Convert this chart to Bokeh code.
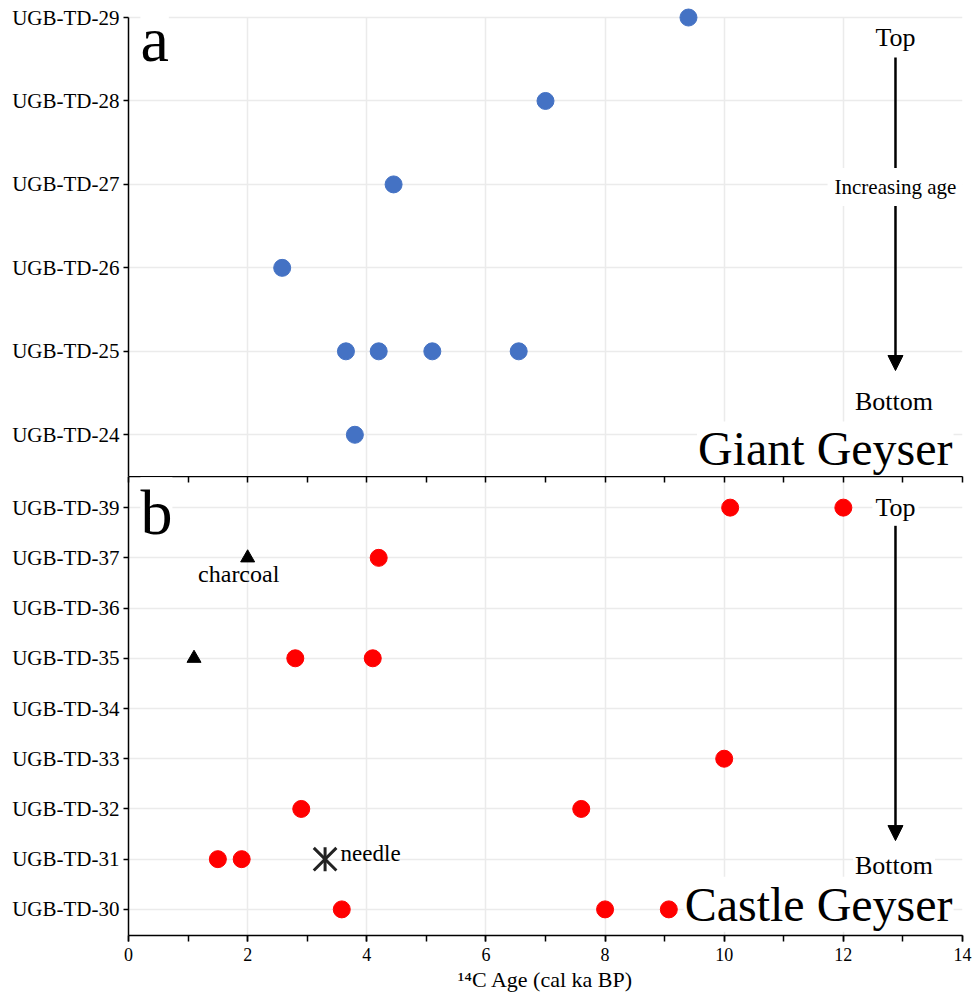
import math
from bokeh.plotting import figure
from bokeh.models import Range1d, FixedTicker, Label, Arrow, NormalHead, LinearAxis
from bokeh.layouts import column
from bokeh.embed import file_html
from bokeh.resources import INLINE

FONT = "Liberation Serif"

# ---------------- data ----------------
x_ticks = [0, 2, 4, 6, 8, 10, 12, 14]
x_minor = list(range(0, 15))

# panel a : Giant Geyser
giant_cats = ["UGB-TD-24", "UGB-TD-25", "UGB-TD-26", "UGB-TD-27", "UGB-TD-28", "UGB-TD-29"]
giant_sample = ["UGB-TD-29", "UGB-TD-28", "UGB-TD-27", "UGB-TD-26",
                "UGB-TD-25", "UGB-TD-25", "UGB-TD-25", "UGB-TD-25", "UGB-TD-24"]
giant_age = [9.4, 7.0, 4.45, 2.58, 3.65, 4.2, 5.1, 6.55, 3.8]

# panel b : Castle Geyser
castle_cats = ["UGB-TD-30", "UGB-TD-31", "UGB-TD-32", "UGB-TD-33", "UGB-TD-34",
               "UGB-TD-35", "UGB-TD-36", "UGB-TD-37", "UGB-TD-39"]
castle_sample = ["UGB-TD-39", "UGB-TD-39", "UGB-TD-37", "UGB-TD-35", "UGB-TD-35",
                 "UGB-TD-33", "UGB-TD-32", "UGB-TD-32", "UGB-TD-31", "UGB-TD-31",
                 "UGB-TD-30", "UGB-TD-30", "UGB-TD-30"]
castle_age = [10.1, 12.0, 4.2, 2.8, 4.1, 10.0, 2.9, 7.6, 1.5, 1.9, 3.58, 8.0, 9.07]
charcoal_sample = ["UGB-TD-37", "UGB-TD-35"]
charcoal_age = [2.0, 1.1]
needle_sample = ["UGB-TD-31"]
needle_age = [3.3]

W = 972
x_range = Range1d(0, 14)


def style_common(p, cats):
    p.outline_line_color = None
    p.background_fill_color = "white"
    p.border_fill_color = "white"
    p.xgrid.ticker = FixedTicker(ticks=x_ticks)
    p.ygrid.ticker = FixedTicker(ticks=list(range(len(cats))))
    for g in (p.xgrid, p.ygrid):
        g.grid_line_color = "#ebebeb"
        g.grid_line_width = 1.5
    ya = p.yaxis[0]
    ya.ticker = FixedTicker(ticks=list(range(len(cats))))
    ya.major_label_overrides = {i: c for i, c in enumerate(cats)}
    ya.major_label_text_font = FONT
    ya.major_label_text_font_size = "21px"
    ya.major_label_text_color = "black"
    ya.major_label_standoff = 4
    ya.major_tick_out = 5
    ya.major_tick_in = 0
    ya.minor_tick_out = 0
    ya.minor_tick_in = 0
    ya.axis_line_width = 1.5
    ya.major_tick_line_width = 1.5
    ya.axis_line_color = "black"
    ya.bounds = (-0.5, len(cats) - 1)


def add_label(p, x, y, text, size, align="center", bg=True, pad=3):
    kw = dict(x=x, y=y, text=text, text_font=FONT, text_font_size=size,
              text_align=align, text_baseline="middle", text_color="black", padding=pad)
    if bg:
        kw["background_fill_color"] = "white"
    p.add_layout(Label(**kw))


def add_arrow(p, x, y0, y1):
    p.add_layout(Arrow(x_start=x, y_start=y0, x_end=x, y_end=y1, line_width=2.5,
                       line_color="black",
                       end=NormalHead(size=15, fill_color="black", line_color="black")))


# ---------------- panel a ----------------
pa = figure(width=W, height=476, x_range=x_range, y_range=Range1d(-0.5, 5.132),
            x_axis_location=None, output_backend="svg", toolbar_location=None,
            min_border_left=128, min_border_right=10, min_border_top=6, min_border_bottom=0)
style_common(pa, giant_cats)
pa.xgrid.cross_bounds = (-0.5, len(giant_cats) - 1)

pa.scatter(x=giant_age, y=[giant_cats.index(s) for s in giant_sample],
           size=17, marker="circle", fill_color="#4472C4", line_color="#4472C4")

add_label(pa, 0.2, 4.74, "a", "64px", align="left", pad=0)
add_arrow(pa, 12.875, 4.52, 0.77)
add_label(pa, 12.875, 4.76, "Top", "26px")
add_label(pa, 12.875, 2.97, "Increasing age", "21px", pad=7)
add_label(pa, 12.85, 0.40, "Bottom", "26px")
add_label(pa, 13.85, -0.17, "Giant Geyser", "48px", align="right", pad=1)

# ---------------- panel b ----------------
pb = figure(width=W, height=528, x_range=x_range, y_range=Range1d(-0.52, 8.62),
            output_backend="svg", toolbar_location=None,
            min_border_left=128, min_border_right=10, min_border_top=0, min_border_bottom=69)
style_common(pb, castle_cats)
pb.yaxis[0].bounds = (-0.52, 8.62)

xa = pb.xaxis[0]
xa.ticker = FixedTicker(ticks=x_ticks, minor_ticks=x_minor)
xa.major_label_text_font = FONT
xa.major_label_text_font_size = "18px"
xa.major_label_text_color = "black"
xa.major_label_standoff = 6
xa.major_tick_out = 6
xa.major_tick_in = 0
xa.minor_tick_out = 6
xa.minor_tick_in = 0
xa.axis_line_width = 1.5
xa.major_tick_line_width = 1.5
xa.minor_tick_line_width = 1.5
xa.axis_line_color = "black"
xa.axis_label = "\u00b9\u2074C Age (cal ka BP)"
xa.axis_label_text_font = FONT
xa.axis_label_text_font_size = "22px"
xa.axis_label_text_font_style = "normal"
xa.axis_label_text_color = "black"
xa.axis_label_standoff = 3

# separating axis between the panels: tick marks only (no labels)
top_axis = LinearAxis(ticker=FixedTicker(ticks=[], minor_ticks=x_minor),
                      major_tick_in=0, major_tick_out=0, minor_tick_in=6, minor_tick_out=0,
                      major_label_standoff=0,
                      axis_line_width=1.5, minor_tick_line_width=1.5,
                      axis_line_color="black")
pb.add_layout(top_axis, "above")

pb.scatter(x=castle_age, y=[castle_cats.index(s) for s in castle_sample],
           size=17, marker="circle", fill_color="#FF0000", line_color="#FF0000")
pb.scatter(x=charcoal_age, y=[castle_cats.index(s) for s in charcoal_sample],
           size=14, marker="triangle", fill_color="black", line_color="black")
needle_y = [castle_cats.index(s) for s in needle_sample]
pb.scatter(x=needle_age, y=needle_y, size=32, marker="x", line_color="#222222", line_width=3)
pb.scatter(x=needle_age, y=needle_y, size=24, marker="dash", angle=math.pi / 2,
           line_color="#222222", line_width=3)

add_label(pb, 0.2, 7.90, "b", "64px", align="left", pad=0)
add_arrow(pb, 12.875, 7.64, 1.37)
add_label(pb, 12.875, castle_cats.index("UGB-TD-39"), "Top", "26px")
add_label(pb, 13.85, 0.10, "Castle Geyser", "48px", align="right", pad=1)
add_label(pb, 12.85, 0.88, "Bottom", "26px", pad=2)
add_label(pb, 1.85, 6.67, "charcoal", "24px", bg=False, pad=0)
add_label(pb, 3.56, 1.11, "needle", "23px", align="left", bg=False, pad=0)

layout = column(pa, pb, spacing=0)
open("out.html", "w").write(file_html(layout, INLINE))
